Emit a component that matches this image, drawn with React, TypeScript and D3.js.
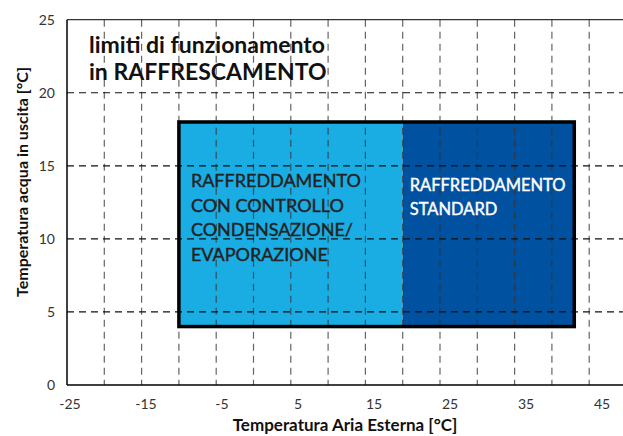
import React from "react";
import * as d3 from "d3";

// chart data
const gridX = [-20, -15, -10, -5, 0, 5, 10, 15, 20, 25, 30, 35, 40, 45];
const gridY = [5, 10, 15, 20];
const xTickLabels = [-25, -15, -5, 5, 15, 25, 35, 45];
const yTickLabels = [0, 5, 10, 15, 20, 25];
const zones = [
  { name: "controllo", x0: -10, x1: 20, color: "#1AADE4" },
  { name: "standard", x0: 20, x1: 43, color: "#0051A0" },
];
const waterRange = [4, 18];
const leftZoneText = ["RAFFREDDAMENTO", "CON CONTROLLO", "CONDENSAZIONE/", "EVAPORAZIONE"];
const rightZoneText = ["RAFFREDDAMENTO", "STANDARD"];
const titleLines = ["limiti di funzionamento", "in RAFFRESCAMENTO"];

const width = 623;
const height = 436;
const margin = { top: 19.7, left: 67, bottom: 51 };
const font = "Lato, 'Open Sans', sans-serif";

function App() {
  const x = d3.scaleLinear().domain([-25, 50]).range([margin.left, 626.5]);
  // tick labels in the original sit slightly off the grid
  const xLabel = d3.scaleLinear().domain([-25, 45]).range([70, 602]);
  const y = d3.scaleLinear().domain([0, 25]).range([height - margin.bottom, margin.top]);

  const rx0 = x(zones[0].x0);
  const rx1 = x(zones[zones.length - 1].x1);
  const ry0 = y(waterRange[1]);
  const ry1 = y(waterRange[0]);

  return (
    <div style={{ position: "absolute", left: 0, top: 0 }}>
      <svg width={width} height={height} style={{ display: "block", background: "#fff" }}>
        {/* zones */}
        {zones.map((z) => (
          <rect
            key={z.name}
            x={x(z.x0)}
            y={ry0}
            width={x(z.x1) - x(z.x0)}
            height={ry1 - ry0}
            fill={z.color}
          />
        ))}

        {/* grid */}
        {gridX.map((v) => (
          <line
            key={"gx" + v}
            x1={x(v)}
            x2={x(v)}
            y1={margin.top}
            y2={y(0)}
            stroke="#333"
            strokeOpacity={0.75}
            strokeWidth={1.2}
            strokeDasharray="7,5"
          />
        ))}
        {gridY.map((v) => (
          <line
            key={"gy" + v}
            x1={margin.left}
            x2={width}
            y1={y(v)}
            y2={y(v)}
            stroke="#111"
            strokeWidth={1.2}
            strokeDasharray="7,5"
          />
        ))}

        {/* outline of the operating envelope */}
        <rect
          x={rx0}
          y={ry0}
          width={rx1 - rx0}
          height={ry1 - ry0}
          fill="none"
          stroke="#000"
          strokeWidth={3.5}
        />

        {/* frame */}
        <line x1={margin.left} x2={width} y1={y(25)} y2={y(25)} stroke="#333" strokeWidth={1.2} />
        <line x1={margin.left} x2={width} y1={y(0)} y2={y(0)} stroke="#000" strokeWidth={1.5} />
        <line x1={margin.left} x2={margin.left} y1={y(25)} y2={y(0)} stroke="#000" strokeWidth={1.5} />

        {/* tick labels */}
        {xTickLabels.map((v) => (
          <text
            key={"xl" + v}
            x={xLabel(v)}
            y={y(0) + 24}
            textAnchor="middle"
            fontFamily={font}
            fontSize={14}
            fill="#333"
          >
            {v}
          </text>
        ))}
        {yTickLabels.map((v) => (
          <text
            key={"yl" + v}
            x={55}
            y={y(v) + 5}
            textAnchor="end"
            fontFamily={font}
            fontSize={14}
            fill="#333"
          >
            {v}
          </text>
        ))}

        {/* axis titles */}
        <text
          x={345}
          y={431}
          textAnchor="middle"
          fontFamily={font}
          fontSize={17}
          fontWeight={700}
          fill="#111"
        >
          Temperatura Aria Esterna [°C]
        </text>
        <text
          transform={`translate(28, 182) rotate(-90)`}
          textAnchor="middle"
          fontFamily={font}
          fontSize={16}
          fontWeight={700}
          fill="#111"
        >
          Temperatura acqua in uscita [°C]
        </text>

        {/* title */}
        {titleLines.map((t, i) => (
          <text
            key={t}
            x={89}
            y={53 + i * 27}
            fontFamily={font}
            fontSize={23}
            fontWeight={700}
            fill="#111"
          >
            {t}
          </text>
        ))}

        {/* zone labels */}
        {leftZoneText.map((t, i) => (
          <text
            key={"lz" + i}
            x={rx0 + 12}
            y={187 + i * 24.7}
            fontFamily={font}
            fontSize={18}
            fill="#222"
            stroke="#222"
            strokeWidth={0.4}
          >
            {t}
          </text>
        ))}
        {rightZoneText.map((t, i) => (
          <text
            key={"rz" + i}
            x={x(20) + 7}
            y={191 + i * 24}
            fontFamily={font}
            fontSize={16.5}
            fill="#fff"
            stroke="#fff"
            strokeWidth={0.4}
          >
            {t}
          </text>
        ))}
      </svg>
    </div>
  );
}

export default App;
